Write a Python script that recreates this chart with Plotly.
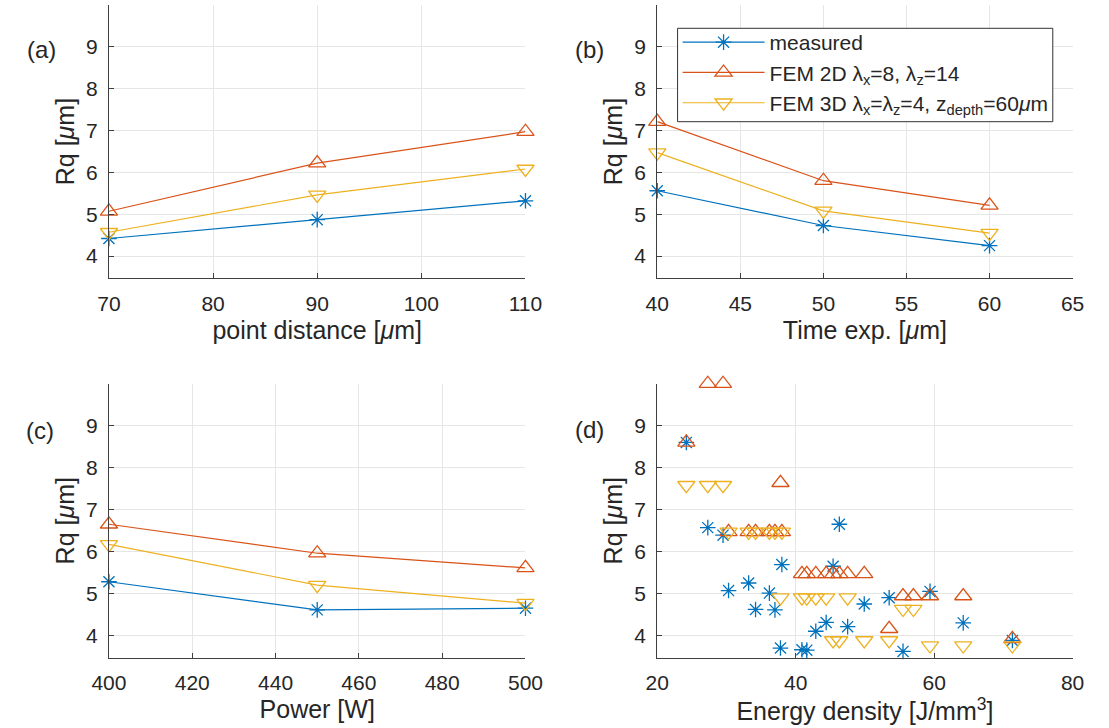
import plotly.graph_objects as go

# ---------------- data ----------------
point_distance = [70, 90, 110]
a_measured = [4.42, 4.87, 5.32]
a_fem2d = [5.07, 6.22, 6.97]
a_fem3d = [4.57, 5.46, 6.08]

time_exp = [40, 50, 60]
b_measured = [5.56, 4.73, 4.25]
b_fem2d = [7.21, 5.80, 5.21]
b_fem3d = [6.47, 5.08, 4.55]

power = [400, 450, 500]
c_measured = [5.28, 4.61, 4.65]
c_fem2d = [6.65, 5.96, 5.61]
c_fem3d = [6.17, 5.20, 4.77]

energy_density = [24.2, 27.3, 29.5, 30.3, 33.2, 34.2, 36.2, 37.0, 37.8, 38.0,
                  40.9, 41.6, 42.9, 44.4, 45.4, 46.3, 47.5, 49.9, 53.5, 55.5,
                  57.0, 59.4, 64.2, 71.3]
d_measured = [8.60, 6.57, 6.39, 5.07, 5.25, 4.62, 5.01, 4.61, 3.70, 5.69,
              3.66, 3.65, 4.10, 4.31, 5.65, 6.65, 4.21, 4.75, 4.90, 3.62,
              3.46, 5.05, 4.30, 3.88]
d_fem2d = [8.60, 10.0, 10.0, 6.47, 6.47, 6.47, 6.47, 6.47, 7.64, 6.47,
           5.47, 5.47, 5.47, 5.47, 5.47, 5.47, 5.47, 5.47, 4.16, 4.94,
           4.94, 4.94, 4.94, 3.92]
d_fem3d = [7.58, 7.58, 7.58, 6.47, 6.47, 6.47, 6.47, 6.47, 4.90, 6.47,
           4.90, 4.90, 4.90, 4.90, 3.88, 3.88, 4.90, 3.88, 3.88, 4.63,
           4.63, 3.76, 3.76, 3.76]

MU = "<i>μ</i>"
names = ["measured",
         "FEM 2D λ<sub>x</sub>=8, λ<sub>z</sub>=14",
         "FEM 3D λ<sub>x</sub>=λ<sub>z</sub>=4, z<sub>depth</sub>=60" + MU + "m"]
colors = ["#0072BD", "#D95319", "#EDB120"]
symbols = ["asterisk-open", "triangle-up-open", "triangle-down-open"]
sizes = [13, 15, 15]

FONT = "Liberation Sans, Arial, sans-serif"
TXT = "#262626"

fig = go.Figure()

panels = [
    ("x", "y", point_distance, [a_measured, a_fem2d, a_fem3d], "lines+markers"),
    ("x2", "y2", time_exp, [b_measured, b_fem2d, b_fem3d], "lines+markers"),
    ("x3", "y3", power, [c_measured, c_fem2d, c_fem3d], "lines+markers"),
    ("x4", "y4", energy_density, [d_measured, d_fem2d, d_fem3d], "markers"),
]

for pi, (xa, ya, xs, series, mode) in enumerate(panels):
    for si, ys in enumerate(series):
        fig.add_trace(go.Scatter(
            x=xs, y=ys, mode=mode, xaxis=xa, yaxis=ya,
            name=names[si], showlegend=(pi == 0),
            line=dict(color=colors[si], width=1.2),
            marker=dict(symbol=symbols[si], size=sizes[si],
                        color=colors[si],
                        line=dict(color=colors[si], width=1.3)),
            cliponaxis=False,
        ))

W, H = 1109, 728
left_dom = [94 / W, 524.5 / W]
right_dom = [660.7 / W, 1090 / W]
top_dom = [1 - 278.3 / H, 1 - 4.8 / H]
bot_dom = [1 - 657.7 / H, 1 - 383.7 / H]

AX = "#3f3f3f"

def xax(dom, rng, tv, title, anchor):
    return dict(domain=dom, range=rng, tickvals=tv, anchor=anchor,
                showline=True, linecolor=AX, linewidth=1,
                ticks="inside", ticklen=5, tickcolor=AX,
                showgrid=True, gridcolor="#e6e6e6", gridwidth=1,
                zeroline=False, ticklabelstandoff=6,
                tickfont=dict(size=21, family=FONT, color=TXT),
                title=dict(text=title, standoff=7,
                           font=dict(size=25, family=FONT, color=TXT)))

def yax(dom, anchor):
    return dict(domain=dom, range=[3.47, 10], tickvals=[4, 5, 6, 7, 8, 9],
                anchor=anchor,
                showline=True, linecolor=AX, linewidth=1,
                ticks="inside", ticklen=5, tickcolor=AX,
                showgrid=True, gridcolor="#e6e6e6", gridwidth=1,
                zeroline=False, ticklabelstandoff=6,
                tickfont=dict(size=21, family=FONT, color=TXT),
                title=dict(text="Rq [" + MU + "m]", standoff=4,
                           font=dict(size=25, family=FONT, color=TXT)))

# legend frame (drawn as a box so the entries can sit exactly inside it)
LEG_L, LEG_T, LEG_R, LEG_B = 681.7, 28.3, 1069.5, 121.7
fig.add_shape(type="rect", xref="paper", yref="paper",
              x0=LEG_L / W, x1=LEG_R / W, y0=1 - LEG_B / H, y1=1 - LEG_T / H,
              fillcolor="white", line=dict(color="#333333", width=1),
              layer="above")

fig.update_layout(
    width=W, height=H,
    margin=dict(l=0, r=0, t=0, b=0),
    paper_bgcolor="white", plot_bgcolor="white",
    font=dict(family=FONT, color=TXT),
    xaxis=xax(left_dom, [70, 110], [70, 80, 90, 100, 110], "point distance [" + MU + "m]", "y"),
    yaxis=yax(top_dom, "x"),
    xaxis2=xax(right_dom, [40, 65], [40, 45, 50, 55, 60, 65], "Time exp. [" + MU + "m]", "y2"),
    yaxis2=yax(top_dom, "x2"),
    xaxis3=xax(left_dom, [400, 500], [400, 420, 440, 460, 480, 500], "Power [W]", "y3"),
    yaxis3=yax(bot_dom, "x3"),
    xaxis4=xax(right_dom, [20, 80], [20, 40, 60, 80], "Energy density [J/mm<sup>3</sup>]", "y4"),
    yaxis4=yax(bot_dom, "x4"),
    legend=dict(x=LEG_L / W, y=1 - 22 / H, xanchor="left", yanchor="top",
                bgcolor="rgba(0,0,0,0)", borderwidth=0,
                font=dict(size=21, family=FONT, color=TXT),
                itemwidth=82, tracegroupgap=0),
    showlegend=True,
)

labels = [("(a)", 24, 50), ("(b)", 591, 50), ("(c)", 23, 430), ("(d)", 591, 429)]
for t, px, py in labels:
    fig.add_annotation(text=t, x=px / W, y=1 - py / H, xref="paper", yref="paper",
                       xanchor="center", yanchor="middle", showarrow=False,
                       font=dict(size=24, family=FONT, color=TXT))

fig.write_html("out.html")
